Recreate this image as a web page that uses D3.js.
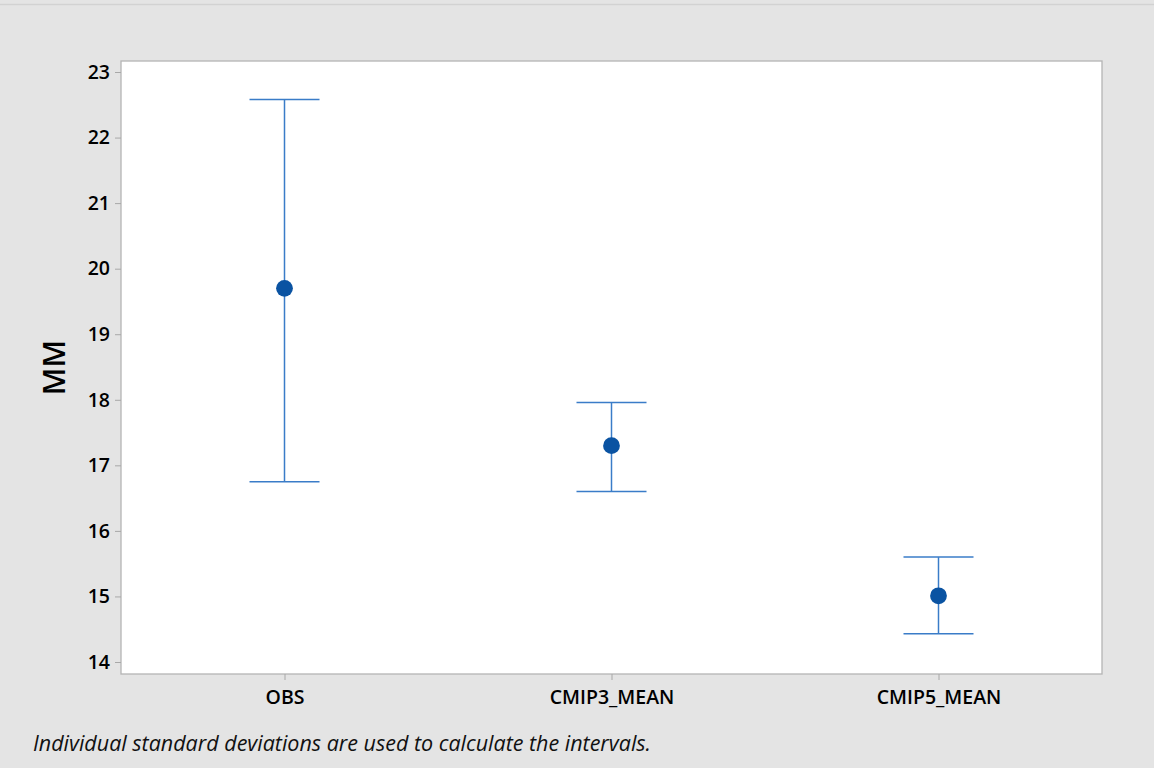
<!DOCTYPE html>
<html><head><meta charset="utf-8">
<script src="https://cdn.jsdelivr.net/npm/d3@7"></script>
<style>body{margin:0;background:#e4e4e4;}svg{display:block;}</style>
</head><body>
<svg id="c" width="1154" height="768"></svg>
<script>
const categories = ["OBS", "CMIP3_MEAN", "CMIP5_MEAN"];
const means = [19.7, 17.3, 15.01];
const upper = [22.58, 17.96, 15.6];
const lower = [16.75, 16.6, 14.43];
const yTicks = [14, 15, 16, 17, 18, 19, 20, 21, 22, 23];
const yLabel = "MM";
const footnote = "Individual standard deviations are used to calculate the intervals.";

const svg = d3.select("#c");
const W = 1154, H = 768;
const L = 121, R = 1102, T = 61, B = 674;
const font = "'Open Sans', 'Noto Sans', sans-serif";

svg.append("rect").attr("x", 0).attr("y", 0).attr("width", W).attr("height", H).attr("fill", "#e4e4e4");
svg.append("line").attr("x1", 0).attr("x2", W).attr("y1", 4.5).attr("y2", 4.5).attr("stroke", "#d2d2d2").attr("stroke-width", 1.5);

const y = d3.scaleLinear().domain([13.817, 23.168]).range([B, T]);
const x = d3.scalePoint().domain(categories).range([L, R]).padding(0.5);

svg.append("rect").attr("x", L).attr("y", T).attr("width", R - L).attr("height", B - T)
  .attr("fill", "#fff").attr("stroke", "#b4b4b4").attr("stroke-width", 1.3);

const ya = svg.append("g").attr("transform", `translate(${L},0)`)
  .call(d3.axisLeft(y).tickValues(yTicks).tickSize(6).tickPadding(5).tickFormat(d3.format("d")));
const xa = svg.append("g").attr("transform", `translate(0,${B})`)
  .call(d3.axisBottom(x).tickSize(6).tickPadding(10));
[ya, xa].forEach(a => {
  a.select(".domain").remove();
  a.selectAll(".tick line").attr("stroke", "#a8a8a8");
  a.selectAll(".tick text").attr("fill", "#000").style("font-family", font)
    .style("font-size", "19.5px").style("font-weight", 600);
});

svg.append("text").attr("transform", `translate(65,${(T + B) / 2}) rotate(-90)`)
  .attr("text-anchor", "middle").style("font-family", font).style("font-size", "30px")
  .style("font-weight", 600).attr("fill", "#000").text(yLabel);

svg.append("text").attr("x", 33).attr("y", 751).style("font-family", font)
  .style("font-size", "21px").style("font-style", "italic").attr("fill", "#111")
  .attr("textLength", 618).attr("lengthAdjust", "spacingAndGlyphs").text(footnote);

const data = categories.map((c, i) => ({c, m: means[i], u: upper[i], l: lower[i]}));
const lineCol = "#3a7cc8", dotCol = "#0a53a2", cap = 35;
const g = svg.append("g");
data.forEach(d => {
  const cx = x(d.c);
  g.append("line").attr("x1", cx).attr("x2", cx).attr("y1", y(d.u)).attr("y2", y(d.l)).attr("stroke", lineCol).attr("stroke-width", 1.5);
  g.append("line").attr("x1", cx - cap).attr("x2", cx + cap).attr("y1", y(d.u)).attr("y2", y(d.u)).attr("stroke", lineCol).attr("stroke-width", 1.5);
  g.append("line").attr("x1", cx - cap).attr("x2", cx + cap).attr("y1", y(d.l)).attr("y2", y(d.l)).attr("stroke", lineCol).attr("stroke-width", 1.5);
  g.append("circle").attr("cx", cx).attr("cy", y(d.m)).attr("r", 8.4).attr("fill", dotCol);
});
</script>
</body></html>
